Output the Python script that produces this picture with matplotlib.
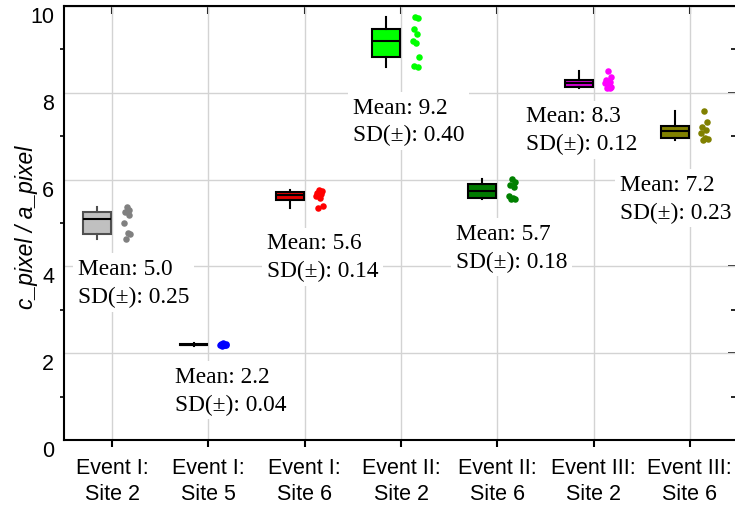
import matplotlib
matplotlib.use("Agg")
import matplotlib.pyplot as plt
from matplotlib.ticker import MultipleLocator
import matplotlib.transforms as mtransforms

# ---- data ----
categories = ["Event I:\nSite 2", "Event I:\nSite 5", "Event I:\nSite 6",
              "Event II:\nSite 2", "Event II:\nSite 6", "Event III:\nSite 2",
              "Event III:\nSite 6"]

ev1_site2 = [5.36, 5.30, 5.25, 5.18, 5.01, 4.76, 4.74, 4.62]
ev1_site5 = [2.23, 2.22, 2.21, 2.20, 2.20, 2.19, 2.18, 2.17]
ev1_site6 = [5.75, 5.74, 5.70, 5.66, 5.62, 5.58, 5.40, 5.34]
ev2_site2 = [9.75, 9.73, 9.46, 9.36, 9.20, 9.14, 8.82, 8.62, 8.60]
ev2_site6 = [6.02, 5.95, 5.88, 5.84, 5.62, 5.58, 5.56, 5.55]
ev3_site2 = [8.50, 8.36, 8.30, 8.26, 8.22, 8.18, 8.14, 8.11, 8.10]
ev3_site6 = [7.57, 7.32, 7.22, 7.14, 7.08, 6.97, 6.94, 6.92]

means = [5.0, 2.2, 5.6, 9.2, 5.7, 8.3, 7.2]
sds = [0.25, 0.04, 0.14, 0.40, 0.18, 0.12, 0.23]

y_ticks = [0, 2, 4, 6, 8, 10]

groups = [ev1_site2, ev1_site5, ev1_site6, ev2_site2, ev2_site6, ev3_site2, ev3_site6]

# ---- styling / positions ----
box_colors = ["#c0c0c0", "#0000ff", "#e00000", "#00ff00", "#007a00", "#d000d0", "#808000"]
point_colors = ["#808080", "#0000ff", "#ff0000", "#00ff00", "#008000", "#ff00ff", "#808000"]
box_edges = ["#505050", "#000000", "#000000", "#000000", "#000000", "#000000", "#000000"]
label_x = [-0.353, 0.654, 1.609, 2.503, 3.572, 4.299, 5.276]
label_y = [3.63, 1.15, 4.22, 7.35, 4.44, 7.15, 5.57]
jitter = [0.00, 0.03, -0.02, 0.02, -0.03, 0.01, 0.035, -0.01, 0.025]

fig = plt.figure(figsize=(7.35, 5.06), dpi=100)
ax = fig.add_axes([64/735, 1-441/506, (738-64)/735, (441-7)/506])

positions = list(range(len(groups)))
for i, vals in enumerate(groups):
    ax.boxplot([vals], positions=[i - 0.155], widths=0.29, patch_artist=True,
               showcaps=False, showfliers=False, whis=10,
               medianprops=dict(color="black", linewidth=1.5),
               whiskerprops=dict(color=box_edges[i], linewidth=1.5),
               boxprops=dict(facecolor=box_colors[i], edgecolor=box_edges[i], linewidth=1.5),
               zorder=3)
    xs = [i + 0.15 + jitter[k % len(jitter)] for k in range(len(vals))]
    ax.scatter(xs, vals, s=22, color=point_colors[i], zorder=3, linewidths=0)
    ax.text(label_x[i], label_y[i], f"Mean: {means[i]:.1f}\nSD(\u00b1): {sds[i]:.2f}",
            fontsize=16.8, family="Liberation Serif", va="center", ha="left",
            linespacing=1.42, zorder=4,
            bbox=dict(boxstyle="square,pad=0.2", facecolor="white", edgecolor="none"))

ax.set_xlim(-0.5, 6.5)
ax.set_ylim(0, 10)
ax.set_xticks(positions)
ax.set_xticklabels(categories, fontsize=15.5, family="Liberation Sans", linespacing=1.3)
ax.yaxis.set_minor_locator(MultipleLocator(1))
ax.set_yticks(y_ticks)
ax.set_yticklabels([str(t) for t in y_ticks], fontsize=15.5, family="Liberation Sans")
shift = mtransforms.ScaledTranslation(0, -7/100, fig.dpi_scale_trans)
for lab in ax.get_yticklabels():
    lab.set_va("top")
    lab.set_transform(lab.get_transform() + shift)

ax.grid(True, which="major", color="#d3d3d3", linewidth=1.0, zorder=0)
ax.set_axisbelow(True)

ax.tick_params(axis="x", which="major", direction="out", length=5, width=1.5, pad=7.5)
ax.tick_params(axis="y", which="major", direction="out", length=0, pad=7)
ax.tick_params(axis="y", which="minor", direction="out", length=3, width=1.2)

for s in ax.spines.values():
    s.set_linewidth(1.5)
    s.set_color("black")

top = ax.secondary_xaxis("top")
top.set_xticks(positions)
top.set_xticklabels([])
top.tick_params(direction="in", length=6, width=1.5)
right = ax.secondary_yaxis("right")
right.set_yticks(y_ticks)
right.yaxis.set_minor_locator(MultipleLocator(1))
right.set_yticklabels([])
right.tick_params(which="major", direction="in", length=7, width=1.2)
right.tick_params(which="minor", direction="in", length=5, width=1.2)

ax.set_ylabel("c_pixel / a_pixel", fontsize=16.5, family="Liberation Sans", style="italic")
ax.yaxis.set_label_coords(-0.039, 0.493)

fig.savefig("out.png", dpi=100)
